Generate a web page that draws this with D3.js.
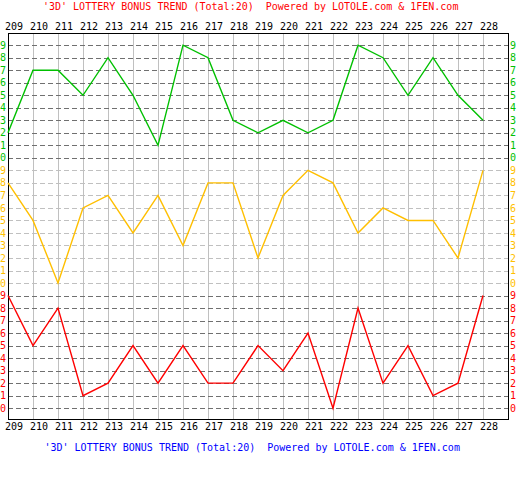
<!DOCTYPE html>
<html><head><meta charset="utf-8">
<script src="https://cdn.jsdelivr.net/npm/d3@7"></script>
<style>body{margin:0;background:#fff}svg{display:block}</style>
</head><body><svg id="c" width="518" height="500"></svg>
<script>
const periods = [209,210,211,212,213,214,215,216,217,218,219,220,221,222,223,224,225,226,227,228];
const greenVals  = [2,7,7,5,8,5,1,9,8,3,2,3,2,3,9,8,5,8,5,3];
const yellowVals = [8,5,0,6,7,4,7,3,8,8,2,7,9,8,4,6,5,5,2,9];
const redVals    = [9,5,8,1,2,5,2,5,2,2,5,3,6,0,8,2,5,1,2,9];
const digits = [0,1,2,3,4,5,6,7,8,9];
const titleText = "'3D' LOTTERY BONUS TREND (Total:20)  Powered by LOTOLE.com & 1FEN.com";

const bands = [
  {name:"green",  vals:greenVals,  offset:20, color:"#00c000", dash:"#707070"},
  {name:"yellow", vals:yellowVals, offset:10, color:"#ffbf00", dash:"#c0c0c0"},
  {name:"red",    vals:redVals,    offset:0,  color:"#ff0000", dash:"#707070"}
];

const L = 8, R = 508, T = 33, B = 419;
const x = d3.scaleLinear().domain([209,228]).range([8,483]);
const y = d3.scaleLinear().domain([0,29]).range([408.2,45.2]);
const font = "'DejaVu Sans Mono', monospace";

const svg = d3.select("#c");
svg.append("rect").attr("width",518).attr("height",500).attr("fill","#fff");

// vertical grid
svg.append("g").selectAll("line").data(periods).join("line")
  .attr("x1",d=>Math.round(x(d))+0.5).attr("x2",d=>Math.round(x(d))+0.5)
  .attr("y1",T).attr("y2",B)
  .attr("stroke","#c0c0c0").attr("stroke-width",1);

// horizontal dashed grid
bands.forEach(b=>{
  svg.append("g").selectAll("line").data(digits).join("line")
    .attr("x1",L).attr("x2",R)
    .attr("y1",d=>Math.round(y(d+b.offset))+0.5).attr("y2",d=>Math.round(y(d+b.offset))+0.5)
    .attr("stroke",b.dash).attr("stroke-width",1).attr("stroke-dasharray","5,3");
});

// border
svg.append("rect").attr("x",L+0.5).attr("y",T+0.5).attr("width",R-L).attr("height",B-T)
  .attr("fill","none").attr("stroke","#000").attr("stroke-width",1);

// lines
bands.forEach(b=>{
  const line = d3.line().x((d,i)=>x(periods[i])).y(d=>y(d+b.offset));
  svg.append("path").datum(b.vals).attr("d",line)
    .attr("fill","none").attr("stroke",b.color).attr("stroke-width",1.4)
    .attr("stroke-linejoin","miter");
});

// y labels
bands.forEach(b=>{
  [0,510].forEach(xx=>{
    svg.append("g").selectAll("text").data(digits).join("text")
      .attr("x",xx).attr("y",d=>y(d+b.offset)+3.6)
      .attr("fill",b.color).attr("font-family",font).attr("font-size",10)
      .text(d=>d);
  });
});

// x labels
[29.6,429.6].forEach(yy=>{
  svg.append("g").selectAll("text").data(periods).join("text")
    .attr("x",d=>x(d)-3).attr("y",yy)
    .attr("fill","#000").attr("font-family",font).attr("font-size",10)
    .text(d=>d);
});

// titles
svg.append("text").attr("x",43).attr("y",10.4).attr("fill","#ff0000")
  .attr("font-family",font).attr("font-size",10).style("white-space","pre").text(titleText);
svg.append("text").attr("x",44.5).attr("y",450.6).attr("fill","#0000ff")
  .attr("font-family",font).attr("font-size",10).style("white-space","pre").text(titleText);
</script></body></html>
